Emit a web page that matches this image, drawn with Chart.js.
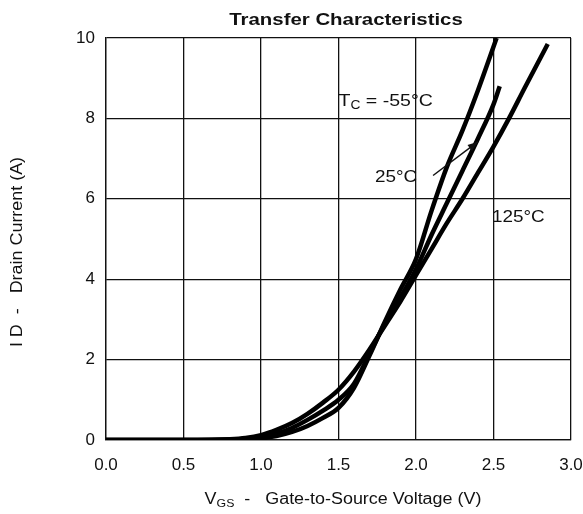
<!DOCTYPE html>
<html>
<head>
<meta charset="utf-8">
<script src="https://cdn.jsdelivr.net/npm/chart.js@4"></script>
<style>
  html, body { margin: 0; padding: 0; background: #fff; }
  #wrap { width: 583px; height: 514px; }
</style>
</head>
<body>
<div id="wrap"><canvas id="myChart" width="583" height="514"></canvas></div>
<script>
// V_GS (V) and I_D (A)
const vgsM55 = [0, 0.5, 0.95, 1.0, 1.1, 1.2, 1.3, 1.4, 1.5, 1.6, 1.7, 1.8, 1.9, 2.0, 2.1, 2.2, 2.3, 2.4, 2.52];
const idM55  = [0, 0, 0.02, 0.04, 0.1, 0.2, 0.35, 0.55, 0.8, 1.3, 2.1, 2.95, 3.75, 4.5, 5.7, 6.8, 7.7, 8.7, 10.0];

const vgs25 = [0, 0.5, 0.9, 1.0, 1.1, 1.2, 1.3, 1.4, 1.5, 1.6, 1.7, 1.8, 1.9, 2.0, 2.1, 2.2, 2.3, 2.4, 2.5, 2.54];
const id25  = [0, 0, 0.02, 0.07, 0.16, 0.3, 0.5, 0.73, 1.0, 1.4, 2.15, 2.9, 3.55, 4.25, 5.1, 5.9, 6.7, 7.5, 8.35, 8.8];

const vgs125 = [0, 0.5, 0.8, 0.9, 1.0, 1.1, 1.2, 1.3, 1.4, 1.5, 1.6, 1.7, 1.8, 1.9, 2.0, 2.1, 2.2, 2.3, 2.4, 2.5, 2.6, 2.7, 2.85];
const id125  = [0, 0, 0.02, 0.05, 0.12, 0.25, 0.42, 0.65, 0.93, 1.25, 1.7, 2.25, 2.85, 3.45, 4.1, 4.75, 5.4, 6.0, 6.65, 7.3, 8.0, 8.75, 9.85];

const xTicks = [0, 0.5, 1.0, 1.5, 2.0, 2.5, 3.0];
const yTicks = [0, 2, 4, 6, 8, 10];

const toPoints = (xs, ys) => xs.map((x, i) => ({ x: x, y: ys[i] }));

const font = '"Liberation Sans", Arial, sans-serif';

// text drawn slightly wide, like the scanned datasheet
function wideText(c, txt, x, y, sx) {
    c.save();
    c.translate(x, y);
    c.scale(sx, 1);
    c.fillText(txt, 0, 0);
    c.restore();
    return c.measureText(txt).width * sx;
}

const labelsPlugin = {
    id: 'labels',
    afterDraw(chart) {
        const c = chart.ctx;
        const xs = chart.scales.x, ys = chart.scales.y;
        const k = 1.12;
        c.save();
        c.fillStyle = '#111';
        c.textBaseline = 'middle';

        // title
        c.font = 'bold 17px ' + font;
        c.textAlign = 'left';
        const tw = c.measureText('Transfer Characteristics').width * 1.2;
        wideText(c, 'Transfer Characteristics', 346 - tw / 2, 20, 1.2);

        // curve labels
        let px = xs.getPixelForValue(1.5), py = ys.getPixelForValue(8.42);
        c.font = '17px ' + font;
        px += wideText(c, 'T', px, py, 1.15);
        c.font = '12px ' + font;
        px += wideText(c, 'C', px, py + 4, 1.15);
        c.font = '17px ' + font;
        wideText(c, ' = -55°C', px, py, 1.15);

        c.font = '16px ' + font;
        wideText(c, '25°C', xs.getPixelForValue(1.735), ys.getPixelForValue(6.53), 1.18);
        wideText(c, '125°C', xs.getPixelForValue(2.49), ys.getPixelForValue(5.53), 1.18);

        // arrow from 25°C label to its curve
        const x1 = xs.getPixelForValue(2.11), y1 = ys.getPixelForValue(6.58);
        const x2 = xs.getPixelForValue(2.4), y2 = ys.getPixelForValue(7.42);
        c.strokeStyle = '#111';
        c.lineWidth = 1.5;
        c.beginPath();
        c.moveTo(x1, y1);
        c.lineTo(x2, y2);
        c.stroke();
        const ang = Math.atan2(y2 - y1, x2 - x1);
        c.beginPath();
        c.moveTo(x2, y2);
        c.lineTo(x2 - 11 * Math.cos(ang - 0.35), y2 - 11 * Math.sin(ang - 0.35));
        c.lineTo(x2 - 11 * Math.cos(ang + 0.35), y2 - 11 * Math.sin(ang + 0.35));
        c.closePath();
        c.fill();

        // x axis title with subscript
        const ty = 500;
        c.font = '11px ' + font;
        const wSub = c.measureText('GS').width * k;
        c.font = '16px ' + font;
        const t1 = 'V', t3 = '  -   Gate-to-Source Voltage (V)';
        const total = (c.measureText(t1).width + c.measureText(t3).width) * k + wSub;
        let sx = 343 - total / 2;
        sx += wideText(c, t1, sx, ty, k);
        c.font = '11px ' + font;
        sx += wideText(c, 'GS', sx, ty + 4, k);
        c.font = '16px ' + font;
        wideText(c, t3, sx, ty, k);

        // y axis title
        c.translate(18, 252);
        c.rotate(-Math.PI / 2);
        c.scale(k, 1);
        c.textAlign = 'center';
        c.fillText('I D  -   Drain Current (A)', 0, 0);
        c.restore();
    }
};

const line = (data) => ({
    data: data,
    borderColor: '#000',
    borderWidth: 4.5,
    pointRadius: 0,
    fill: false,
    cubicInterpolationMode: 'monotone'
});

const myChart = new Chart(document.getElementById('myChart').getContext('2d'), {
    type: 'line',
    data: {
        datasets: [
            line(toPoints(vgsM55, idM55)),
            line(toPoints(vgs25, id25)),
            line(toPoints(vgs125, id125))
        ]
    },
    options: {
        responsive: false,
        animation: false,
        layout: { padding: { top: 38, right: 12, bottom: 0, left: 0 } },
        plugins: { legend: { display: false }, tooltip: { enabled: false } },
        scales: {
            x: {
                type: 'linear',
                min: 0, max: 3,
                afterBuildTicks: (s) => { s.ticks = xTicks.map(v => ({ value: v })); },
                afterFit: (s) => { s.height = 74; s.paddingLeft = 0; s.paddingRight = 0; },
                grid: { color: '#111', lineWidth: 1.3, drawTicks: false },
                border: { color: '#111', width: 1.3 },
                ticks: {
                    padding: 15,
                    color: '#111',
                    font: { family: font, size: 17 },
                    maxRotation: 0,
                    callback: (v) => v.toFixed(1)
                }
            },
            y: {
                min: 0, max: 10,
                afterBuildTicks: (s) => { s.ticks = yTicks.map(v => ({ value: v })); },
                afterFit: (s) => { s.width = 106; s.paddingTop = 0; s.paddingBottom = 0; },
                grid: { color: '#111', lineWidth: 1.3, drawTicks: false },
                border: { color: '#111', width: 1.3 },
                ticks: {
                    padding: 11,
                    color: '#111',
                    font: { family: font, size: 17 }
                }
            }
        }
    },
    plugins: [labelsPlugin]
});
</script>
</body>
</html>
